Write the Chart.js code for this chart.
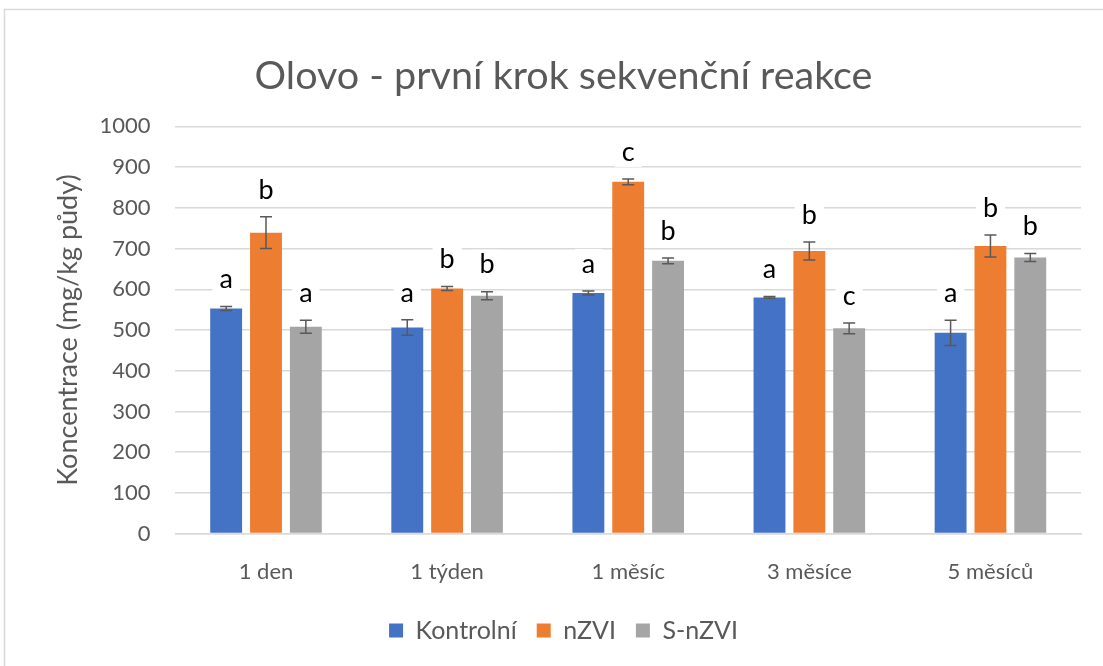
<!DOCTYPE html>
<html>
<head>
<meta charset="utf-8">
<script src="https://cdn.jsdelivr.net/npm/chart.js@4"></script>
<style>
html,body{margin:0;padding:0;background:#fff;}
#wrap{position:relative;width:1103px;height:666px;}
canvas{display:block;}
</style>
</head>
<body>
<div id="wrap"><canvas id="c" width="1103" height="666"></canvas></div>
<script>
const categories = ["1 den", "1 týden", "1 měsíc", "3 měsíce", "5 měsíců"];
const seriesNames = ["Kontrolní", "nZVI", "S-nZVI"];
const kontrolni = [553, 506, 591, 580, 493];
const nzvi = [739, 602, 864, 694, 706];
const snzvi = [508, 584, 670, 504, 678];
const kontrolniErr = [5, 19, 5, 2, 31];
const nzviErr = [39, 5, 7, 22, 27];
const snzviErr = [16, 10, 7, 13, 10];
const kontrolniLetters = ["a", "a", "a", "a", "a"];
const nzviLetters = ["b", "b", "c", "b", "b"];
const snzviLetters = ["a", "b", "b", "c", "b"];
const yTicks = [0, 100, 200, 300, 400, 500, 600, 700, 800, 900, 1000];

const FONT = "Lato, 'Open Sans', sans-serif";
const colors = ["#4472C4", "#ED7D31", "#A5A5A5"];
const errs = [kontrolniErr, nzviErr, snzviErr];
const letters = [kontrolniLetters, nzviLetters, snzviLetters];

const errPlugin = {
  id: 'errLetters',
  afterDatasetsDraw(chart) {
    const ctx = chart.ctx;
    const y = chart.scales.y;
    chart.data.datasets.forEach((ds, di) => {
      const meta = chart.getDatasetMeta(di);
      meta.data.forEach((bar, i) => {
        const v = ds.data[i], e = errs[di][i];
        const yt = y.getPixelForValue(v + e), yb = y.getPixelForValue(v - e);
        const x = bar.x;
        ctx.save();
        ctx.strokeStyle = "#595959";
        ctx.lineWidth = 1.5;
        ctx.beginPath();
        ctx.moveTo(x, yt); ctx.lineTo(x, yb);
        ctx.moveTo(x - 6, yt); ctx.lineTo(x + 6, yt);
        ctx.moveTo(x - 6, yb); ctx.lineTo(x + 6, yb);
        ctx.stroke();
        ctx.font = "27px " + FONT;
        ctx.textAlign = "center";
        ctx.textBaseline = "middle";
        const ly = yt - 27;
        const w = ctx.measureText(letters[di][i]).width;
        ctx.fillStyle = "#fff";
        ctx.fillRect(x - w / 2 - 7, ly - 15, w + 14, 30);
        ctx.fillStyle = "#000";
        ctx.fillText(letters[di][i], x, ly);
        ctx.restore();
      });
    });
  }
};

const borderPlugin = {
  id: 'frame',
  beforeDraw(chart) {
    const ctx = chart.ctx;
    ctx.save();
    ctx.fillStyle = "#fff";
    ctx.fillRect(0, 0, chart.width, chart.height);
    ctx.strokeStyle = "#d9d9d9";
    ctx.lineWidth = 1.5;
    ctx.beginPath();
    ctx.moveTo(4.5, 666); ctx.lineTo(4.5, 9.5); ctx.lineTo(1103, 9.5);
    ctx.stroke();
    ctx.restore();
  }
};

new Chart(document.getElementById('c'), {
  type: 'bar',
  data: {
    labels: categories,
    datasets: [
      { label: seriesNames[0], data: kontrolni, backgroundColor: colors[0] },
      { label: seriesNames[1], data: nzvi, backgroundColor: colors[1] },
      { label: seriesNames[2], data: snzvi, backgroundColor: colors[2] }
    ]
  },
  options: {
    responsive: false,
    animation: false,
    datasets: { bar: { categoryPercentage: 0.66, barPercentage: 0.8 } },
    layout: { padding: { left: 46, right: 22, top: 33, bottom: 13 } },
    plugins: {
      title: {
        display: true,
        text: "Olovo - první krok sekvenční reakce",
        color: "#595959",
        font: { family: FONT, size: 39.5, weight: 'normal' },
        padding: { top: 20, bottom: 26 }
      },
      legend: {
        position: 'bottom',
        labels: {
          color: "#595959",
          font: { family: FONT, size: 25 },
          boxWidth: 14, boxHeight: 14, padding: 20
        }
      },
      tooltip: { enabled: false }
    },
    scales: {
      x: {
        grid: { display: false, drawTicks: false },
        border: { color: "#d9d9d9", width: 1.5 },
        ticks: { color: "#595959", font: { family: FONT, size: 22 }, padding: 25 },
        afterFit(axis) { axis.height -= 12; }
      },
      y: {
        min: 0, max: 1000,
        afterBuildTicks(axis) { axis.ticks = yTicks.map(v => ({ value: v })); },
        grid: { color: "#d9d9d9", lineWidth: 1.5, drawTicks: false },
        border: { display: false },
        ticks: { color: "#595959", font: { family: FONT, size: 22 }, padding: 25,
                 callback: (v) => String(v) },
        title: {
          display: true,
          text: "Koncentrace (mg/kg půdy)",
          color: "#595959",
          font: { family: FONT, size: 27 },
          padding: { top: 6, bottom: -10 }
        }
      }
    }
  },
  plugins: [borderPlugin, errPlugin]
});
</script>
</body>
</html>
